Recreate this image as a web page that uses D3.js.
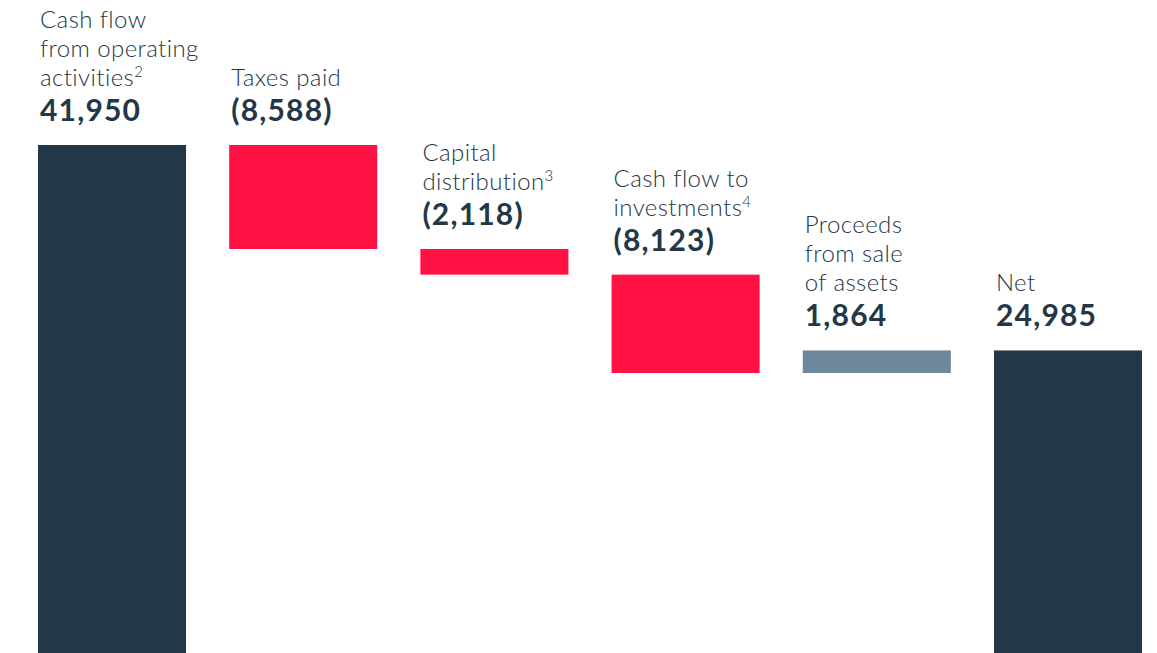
<!DOCTYPE html>
<meta charset="utf-8">
<head>
  <title>Cash flow waterfall</title>
  <style>
    body { margin: 0; background: #fff; }
    text { font-family: Lato, "Open Sans", sans-serif; fill: #243746; }
  </style>
</head>
<body>
  <svg width="1157" height="653"></svg>

  <script src="https://cdnjs.cloudflare.com/ajax/libs/d3/7.8.5/d3.min.js"></script>
  <script>
var categories = ['operating', 'taxes', 'capital', 'investments', 'proceeds', 'net'];
var labelLines = [
  ['Cash flow', 'from operating', 'activities'],
  ['Taxes paid'],
  ['Capital', 'distribution'],
  ['Cash flow to', 'investments'],
  ['Proceeds', 'from sale', 'of assets'],
  ['Net']
];
var footnotes = ['2', '', '3', '4', '', ''];
var values = [41950, -8588, -2118, -8123, 1864, 24985];
var kinds = ['total', 'delta', 'delta', 'delta', 'delta', 'total'];

var colors = { total: '#243746', neg: '#ff1243', pos: '#6e889b' };

// running totals for the waterfall
var running = 0;
var bars = categories.map(function(c, i) {
  var start, end;
  if (kinds[i] === 'total') { start = 0; end = values[i]; running = values[i]; }
  else { start = running; end = running + values[i]; running = end; }
  return { key: c, i: i, y0: Math.min(start, end), y1: Math.max(start, end), value: values[i], kind: kinds[i] };
});

var x = d3.scaleBand().domain(categories).range([38, 1142]).paddingInner(0.2257).paddingOuter(0);
var y = d3.scaleLinear().domain([0, 41950]).range([653, 145]);

var svg = d3.select('svg');

svg.selectAll('rect')
  .data(bars)
  .enter()
  .append('rect')
  .attr('x', function(d) { return x(d.key); })
  .attr('width', x.bandwidth())
  .attr('y', function(d) { return y(d.y1); })
  .attr('height', function(d) { return y(d.y0) - y(d.y1); })
  .style('fill', function(d) {
    if (d.kind === 'total') return colors.total;
    return d.value < 0 ? colors.neg : colors.pos;
  });

var fmt = d3.format(',');

var g = svg.selectAll('g.label')
  .data(bars)
  .enter()
  .append('g')
  .attr('class', 'label')
  .attr('transform', function(d) { return 'translate(' + (x(d.key) + 2) + ',' + (y(d.y1) - 24) + ')'; });

g.append('text')
  .attr('font-size', 30)
  .attr('font-weight', 700)
  .attr('letter-spacing', 1.2)
  .text(function(d) { return d.value < 0 ? '(' + fmt(-d.value) + ')' : fmt(d.value); });

g.each(function(d) {
  var lines = labelLines[d.i];
  var sel = d3.select(this);
  lines.forEach(function(line, j) {
    var t = sel.append('text')
      .attr('y', -35 - (lines.length - 1 - j) * 29)
      .attr('font-size', 24)
      .attr('font-weight', 300)
      .attr('letter-spacing', 0.4)
      .text(line);
    if (j === lines.length - 1 && footnotes[d.i]) {
      t.append('tspan')
        .attr('font-size', 15)
        .attr('font-weight', 300)
        .attr('dy', -9)
        .text(footnotes[d.i]);
    }
  });
});
  </script>
</body>
</html>
